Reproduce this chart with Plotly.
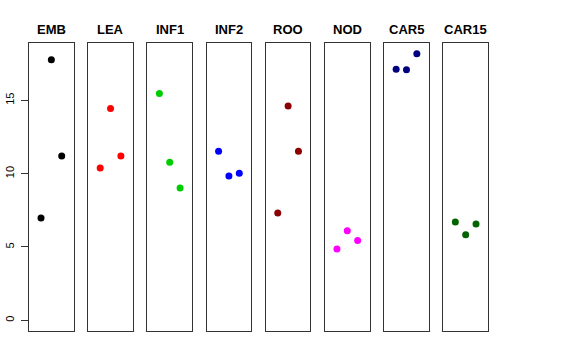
import plotly.graph_objects as go

groups = ["EMB", "LEA", "INF1", "INF2", "ROO", "NOD", "CAR5", "CAR15"]
colors = ["#000000", "#FF0000", "#00CD00", "#0000FF", "#8B0000", "#FF00FF", "#000080", "#006400"]
x_pos = [1, 2, 3]
values = {
    "EMB":   [6.97, 17.77, 11.20],
    "LEA":   [10.38, 14.45, 11.20],
    "INF1":  [15.47, 10.77, 9.02],
    "INF2":  [11.52, 9.84, 10.02],
    "ROO":   [7.31, 14.61, 11.52],
    "NOD":   [4.86, 6.11, 5.45],
    "CAR5":  [17.11, 17.09, 18.18],
    "CAR15": [6.70, 5.84, 6.56],
}
y_ticks = [0, 5, 10, 15]

W, H = 576, 360
left0, step, pw = 29.0, 59.19, 44.7
top_px, bot_px = 43.0, 331.0

ymin, ymax = 0.0, max(max(v) for v in values.values())
ext = (ymax - ymin) * 0.04
yr = [ymin - ext, ymax + ext]
xr = [0 - 4 * 0.04, 4 + 4 * 0.04]

fig = go.Figure()
layout = dict(
    width=W, height=H, margin=dict(l=0, r=0, t=0, b=0, autoexpand=False),
    paper_bgcolor="white", plot_bgcolor="white", showlegend=False,
    font=dict(family="Liberation Sans, Arial, sans-serif", color="black"),
)
annotations = []
for i, g in enumerate(groups):
    n = "" if i == 0 else str(i + 1)
    x0 = (left0 + i * step) / W
    x1 = (left0 + i * step + pw) / W
    fig.add_trace(go.Scatter(
        x=x_pos, y=values[g], mode="markers",
        marker=dict(color=colors[i], size=7, line=dict(width=0)),
        xaxis="x" + n, yaxis="y" + n, hoverinfo="skip"))
    layout["xaxis" + n] = dict(
        domain=[x0, x1], range=xr, showticklabels=False, ticks="",
        showgrid=False, zeroline=False, showline=True, mirror=True,
        linecolor="#333333", linewidth=1, anchor="y" + n, fixedrange=True,
        automargin=False)
    ya = dict(
        domain=[1 - bot_px / H, 1 - top_px / H], range=yr, showgrid=False,
        zeroline=False, showline=True, mirror=True, linecolor="#333333",
        linewidth=1, anchor="x" + n, fixedrange=True, automargin=False)
    if i == 0:
        ya.update(tickmode="array", tickvals=y_ticks,
                  ticktext=[str(t) for t in y_ticks], ticks="outside",
                  ticklen=7, tickcolor="#333333", tickangle=-90,
                  ticklabelstandoff=3,
                  tickfont=dict(size=11, color="black"))
    else:
        ya.update(showticklabels=False, ticks="")
    layout["yaxis" + n] = ya
    annotations.append(dict(
        text="<b>" + g + "</b>", x=(x0 + x1) / 2, y=1 - 29 / H,
        xref="paper", yref="paper", showarrow=False,
        xanchor="center", yanchor="middle",
        font=dict(size=13, color="black")))
layout["annotations"] = annotations
fig.update_layout(**layout)
fig.write_html(
    "out.html",
    config={"displayModeBar": False},
    post_script="document.body.style.margin='0px';document.body.style.overflow='hidden';",
)
